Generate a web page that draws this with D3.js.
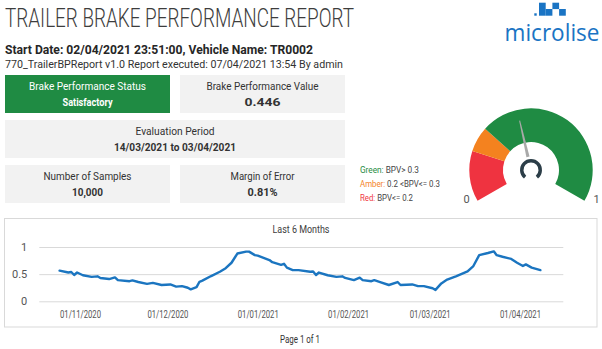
<!DOCTYPE html>
<html><head><meta charset="utf-8">
<script src="https://cdn.jsdelivr.net/npm/d3@7"></script>
<style>
html,body{margin:0;padding:0;background:#fff;}
svg{display:block;font-family:Roboto,"Noto Sans",sans-serif;}
</style></head>
<body><svg id="c" width="602" height="349"></svg>
<script>
// ---- data ----
const reportTitle = "TRAILER BRAKE PERFORMANCE REPORT";
const headerLine = "Start Date: 02/04/2021 23:51:00, Vehicle Name: TR0002";
const subLine = "770_TrailerBPReport v1.0 Report executed: 07/04/2021 13:54 By admin";
const kpiLabels = ["Brake Performance Status","Brake Performance Value","Evaluation Period","Number of Samples","Margin of Error"];
const kpiValues = ["Satisfactory","0.446","14/03/2021 to 03/04/2021","10,000","0.81%"];
const bpv = 0.446;
const bandNames = ["Red","Amber","Green"];
const bandLimits = [0, 0.2, 0.3, 1];
const bandLegend = ["Red: BPV<= 0.2","Amber: 0.2 <BPV<= 0.3","Green: BPV> 0.3"];
const chartTitle = "Last 6 Months";
const yTicks = [0, 0.5, 1];
const yTickLabels = ["0","0.5","1"];
const xTickLabels = ["01/11/2020","01/12/2020","01/01/2021","01/02/2021","01/03/2021","01/04/2021"];
const seriesDates = ["25/10/2020","28/10/2020","29/10/2020","30/10/2020","31/10/2020",
"02/11/2020","05/11/2020","07/11/2020","08/11/2020","11/11/2020","13/11/2020","14/11/2020","18/11/2020","19/11/2020","21/11/2020","24/11/2020","26/11/2020","29/11/2020",
"02/12/2020","04/12/2020","06/12/2020","08/12/2020","09/12/2020","11/12/2020","12/12/2020","13/12/2020","16/12/2020","19/12/2020","21/12/2020","23/12/2020","25/12/2020","28/12/2020","29/12/2020","31/12/2020",
"01/01/2021","03/01/2021","05/01/2021","06/01/2021","09/01/2021","10/01/2021","11/01/2021","13/01/2021","15/01/2021","19/01/2021","20/01/2021","21/01/2021","22/01/2021","25/01/2021","28/01/2021","30/01/2021","31/01/2021",
"03/02/2021","05/02/2021","06/02/2021","09/02/2021","10/02/2021","12/02/2021","15/02/2021","18/02/2021","19/02/2021","23/02/2021","25/02/2021","27/02/2021",
"02/03/2021","03/03/2021","05/03/2021","07/03/2021","10/03/2021","14/03/2021","16/03/2021","18/03/2021","21/03/2021","23/03/2021","24/03/2021","26/03/2021","29/03/2021","31/03/2021",
"02/04/2021","03/04/2021","05/04/2021","08/04/2021"];
const seriesValues = [0.565,0.53,0.54,0.485,0.53,
0.48,0.45,0.46,0.43,0.41,0.44,0.39,0.37,0.385,0.355,0.32,0.34,0.30,
0.31,0.27,0.28,0.25,0.22,0.26,0.36,0.38,0.465,0.545,0.61,0.71,0.88,0.915,0.915,0.85,
0.84,0.80,0.76,0.72,0.67,0.69,0.62,0.575,0.575,0.545,0.55,0.485,0.53,0.48,0.45,0.46,0.43,
0.39,0.435,0.39,0.37,0.39,0.355,0.30,0.355,0.30,0.31,0.28,0.28,
0.24,0.21,0.33,0.40,0.46,0.55,0.65,0.85,0.89,0.92,0.85,0.82,0.78,0.71,
0.65,0.68,0.62,0.575];
const pageText = "Page 1 of 1";

// ---- drawing ----
const svg = d3.select("#c");
const GREEN = "#1f8b43", AMBER = "#f4821f", RED = "#ef3340", BLUE = "#1b75c0";
const bandColors = [RED, AMBER, GREEN];

function txt(x, y, s, o = {}) {
  const t = svg.append("text").attr("x", x).attr("y", y).text(s)
    .attr("font-size", o.size || 11)
    .attr("fill", o.fill || "#333")
    .attr("font-weight", o.weight || 400)
    .attr("text-anchor", o.anchor || "start");
  if (o.family) t.attr("font-family", o.family);
  if (o.len) t.attr("textLength", o.len).attr("lengthAdjust", "spacingAndGlyphs");
  return t;
}

// Header
txt(5, 26.5, reportTitle, {size: 25, weight: 300, fill: "#3d3d3d", len: 349});
txt(5, 54, headerLine, {size: 12.5, weight: 700, fill: "#262626", len: 308});
txt(5, 67.5, subLine, {size: 11, fill: "#333", len: 338});

// Logo
const logo = svg.append("g").attr("fill", "#1a74c4");
[[534.3,13.3,2.4,2.4],[539,2.7,6.7,6.4],[545.7,9,6.7,6.7],[552.4,2.7,6.7,6.4],[559.1,9,6.7,6.7],[539,9,6.7,6.7]]
  .forEach(r => logo.append("rect").attr("x", r[0]).attr("y", r[1]).attr("width", r[2]).attr("height", r[3]));
txt(504.5, 40.7, "microlise", {size: 23, fill: "#1a74c4", family: "'Open Sans',sans-serif", len: 95});

// KPI boxes
const boxes = [
  {x: 5, y: 75, w: 165, h: 38, fill: GREEN, color: "#fff"},
  {x: 180, y: 75, w: 165, h: 38, fill: "#f2f2f2", color: "#333"},
  {x: 5, y: 120, w: 340, h: 38, fill: "#f2f2f2", color: "#333"},
  {x: 5, y: 165, w: 165, h: 38, fill: "#f2f2f2", color: "#333"},
  {x: 180, y: 165, w: 165, h: 38, fill: "#f2f2f2", color: "#333"}
];
const labelLens = [117, 112, 79, 88, 64];
const valueLens = [50, 36, 122, 31, 30];
boxes.forEach((b, i) => {
  svg.append("rect").attr("x", b.x).attr("y", b.y).attr("width", b.w).attr("height", b.h).attr("fill", b.fill);
  const cx = b.x + b.w / 2;
  txt(cx, b.y + 14.5, kpiLabels[i], {size: 11, fill: b.color, anchor: "middle", len: labelLens[i]});
  txt(cx, b.y + 31, kpiValues[i], {size: 11, weight: 700, fill: b.color, anchor: "middle", len: valueLens[i]});
});

// Legend
const legY = [200.7, 187.3, 173.3];
const legLens = [53, 80, 59];
bandLegend.forEach((s, i) => {
  const t = svg.append("text").attr("x", 360).attr("y", legY[i]).attr("font-size", 8.5)
    .attr("textLength", legLens[i]).attr("lengthAdjust", "spacingAndGlyphs");
  const k = s.indexOf(":");
  t.append("tspan").attr("fill", bandColors[i]).text(s.slice(0, k + 1));
  t.append("tspan").attr("fill", "#444").text(s.slice(k + 1));
});

// Gauge
const gcx = 531, gcy = 170, Ro = 61.7, Ri = 28;
const ang = d3.scaleLinear().domain([0, 1]).range([-2 * Math.PI / 3, 2 * Math.PI / 3]);
const arc = d3.arc().innerRadius(Ri).outerRadius(Ro);
const gg = svg.append("g").attr("transform", `translate(${gcx},${gcy})`);
bandNames.forEach((n, i) => {
  gg.append("path").attr("fill", bandColors[i])
    .attr("d", arc({startAngle: ang(bandLimits[i]), endAngle: ang(bandLimits[i + 1])}));
});
// needle
const a = ang(bpv);
const nd = (r, off) => [Math.sin(a) * r + Math.cos(a) * off, -Math.cos(a) * r + Math.sin(a) * off];
gg.append("path").attr("fill", "#a9a9a9")
  .attr("d", d3.line()([nd(13.5, -1.6), nd(50.7, -0.5), nd(50.7, 0.5), nd(13.5, 1.6)]) + "Z");
// hub
gg.append("path").attr("fill", "#2c3e48")
  .attr("d", d3.arc().innerRadius(7.5).outerRadius(11)({startAngle: -0.78 * Math.PI, endAngle: 0.78 * Math.PI}));
txt(466.5, 203, "0", {size: 11, fill: "#555", anchor: "middle"});
txt(596.5, 203, "1", {size: 11, fill: "#555", anchor: "middle"});

// Line chart box
svg.append("rect").attr("x", 4.5).attr("y", 218.5).attr("width", 592.5).attr("height", 108.5)
  .attr("fill", "#fff").attr("stroke", "#d9d9d9").attr("stroke-width", 1);
txt(301, 232.7, chartTitle, {size: 10.5, fill: "#404040", anchor: "middle", len: 57});

const parse = d3.timeParse("%d/%m/%Y");
const x = d3.scaleTime().domain([parse(xTickLabels[0]), parse(xTickLabels[5])]).range([80, 520]);
const y = d3.scaleLinear().domain([0, 1]).range([301.3, 247]);
const plotL = 39.3, plotR = 563.3;

const yAxis = d3.axisLeft(y).tickValues(yTicks).tickFormat((d, i) => yTickLabels[i])
  .tickSize(plotR - plotL).tickPadding(12);
const ya = svg.append("g").attr("transform", `translate(${plotR},0)`).call(yAxis);
ya.select(".domain").remove();
ya.selectAll(".tick line").attr("stroke", "#d9d9d9");
ya.selectAll(".tick text").attr("font-size", 11).attr("fill", "#555").attr("font-family", "Roboto,sans-serif");

const xAxis = d3.axisBottom(x).tickValues(xTickLabels.map(parse)).tickFormat((d, i) => xTickLabels[i])
  .tickSize(0).tickPadding(0);
const xa = svg.append("g").attr("transform", `translate(0,${311})`).call(xAxis);
xa.select(".domain").remove();
xa.selectAll(".tick text").attr("font-size", 10.5).attr("fill", "#555")
  .attr("font-family", "Roboto,sans-serif").attr("textLength", 41).attr("lengthAdjust", "spacingAndGlyphs");

const pts = seriesDates.map((d, i) => ({d: parse(d), v: seriesValues[i]}));
svg.append("path").datum(pts).attr("fill", "none").attr("stroke", BLUE).attr("stroke-width", 2.4)
  .attr("stroke-linejoin", "round").attr("stroke-linecap", "round")
  .attr("d", d3.line().x(p => x(p.d)).y(p => y(p.v)));

txt(300, 343, pageText, {size: 10.5, fill: "#333", anchor: "middle", len: 40});
</script></body></html>
